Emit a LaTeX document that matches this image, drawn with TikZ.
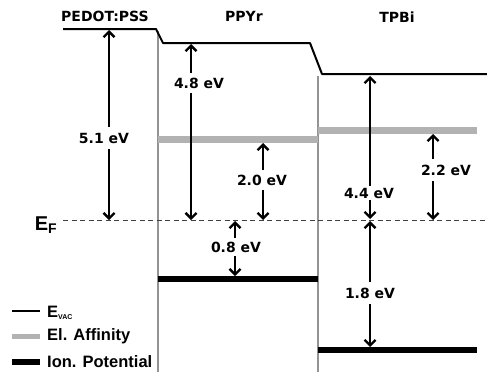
\documentclass[tikz,border=0pt]{standalone}
\usepackage{fontspec}
\setmainfont{DejaVu Sans}
\newfontfamily\legfont{Liberation Sans}
\usetikzlibrary{arrows.meta}

\tikzset{
	vac/.style={line width=2pt, black},
	affin/.style={line width=7pt, gray!60},
	ionpot/.style={line width=6.5pt, black},
	sepline/.style={line width=1.2pt, gray!85},
	fermi/.style={line width=0.9pt, gray!50!black, dash pattern=on 5pt off 3.5pt},
	gaparrow/.style={line width=2.3pt, -{Straight Barb[length=5.5pt,width=11pt,line width=2.3pt]}},
	elab/.style={font=\bfseries\fontsize{14}{15}\selectfont, inner xsep=1pt, inner ysep=5pt},
	mattitle/.style={font=\bfseries\fontsize{14}{15}\selectfont, inner sep=0pt},
	legtext/.style={font=\legfont\bfseries\fontsize{16.5}{17}\selectfont, anchor=west, inner sep=0pt},
}

\begin{document}
\begin{tikzpicture}[x=1pt, y=-1pt, line cap=butt]
	\useasboundingbox (0,0) rectangle (487,372);
	% interfaces
	\draw[sepline] (158,31) -- (158,372);
	\draw[sepline] (318,76) -- (318,372);
	% vacuum level
	\draw[vac, line join=round] (63,29) -- (156,29) -- (163,43) -- (310,43) -- (322,74) -- (487,74);
	% electron affinity and ionisation potential
	\draw[affin] (158,139) -- (318,139);
	\draw[affin] (318,130) -- (477,130);
	\draw[ionpot] (158,279) -- (318,279);
	\draw[ionpot] (318,350) -- (477,350);
	% Fermi level
	\draw[fermi] (63,220) -- (487,220);
	\node[inner sep=0pt, font=\legfont\bfseries\fontsize{20}{21}\selectfont] (ef) at (46,225) {E\textsubscript{\fontsize{14}{14}\selectfont F}};

	% titles
	\node[mattitle] (pedot) at (105,16) {PEDOT:PSS};
	\node[mattitle] (ppyr) at (244,16) {PPYr};
	\node[mattitle] (tpbi) at (397,17) {TPBi};

	% 5.1 eV
	\coordinate (t51) at (109,30);
	\coordinate (b51) at (109,220);
	\node[elab, inner ysep=6pt] (l51) at (104,138) {5.1 eV};
	\draw[gaparrow] (l51.north -| t51) -- (t51);
	\draw[gaparrow] (l51.south -| b51) -- (b51);
	% 4.8 eV
	\coordinate (t48) at (191,44);
	\coordinate (b48) at (191,220);
	\node[elab] (l48) at (199,83) {4.8 eV};
	\draw[gaparrow] (l48.north -| t48) -- (t48);
	\draw[gaparrow] (l48.south -| b48) -- (b48);
	% 2.0 eV
	\coordinate (t20) at (263,143);
	\coordinate (b20) at (263,220);
	\node[elab] (l20) at (262,180) {2.0 eV};
	\draw[gaparrow] (l20.north -| t20) -- (t20);
	\draw[gaparrow] (l20.south -| b20) -- (b20);
	% 0.8 eV
	\coordinate (t08) at (235,221);
	\coordinate (b08) at (235,276);
	\node[elab, inner ysep=4pt] (l08) at (236,247) {0.8 eV};
	\draw[gaparrow] (l08.north -| t08) -- (t08);
	\draw[gaparrow] (l08.south -| b08) -- (b08);
	% 4.4 eV
	\coordinate (t44) at (370,76);
	\coordinate (b44) at (370,219);
	\node[elab, inner ysep=2pt] (l44) at (369,193) {4.4 eV};
	\draw[gaparrow] (l44.north -| t44) -- (t44);
	\draw[gaparrow] (l44.south -| b44) -- (b44);
	% 1.8 eV
	\coordinate (t18) at (370,221);
	\coordinate (b18) at (370,347);
	\node[elab, inner ysep=6pt] (l18) at (370,293) {1.8 eV};
	\draw[gaparrow] (l18.north -| t18) -- (t18);
	\draw[gaparrow] (l18.south -| b18) -- (b18);
	% 2.2 eV
	\coordinate (t22) at (433,134);
	\coordinate (b22) at (433,220);
	\node[elab, inner ysep=6pt] (l22) at (446,170) {2.2 eV};
	\draw[gaparrow] (l22.north -| t22) -- (t22);
	\draw[gaparrow] (l22.south -| b22) -- (b22);

	% legend
	\draw[vac] (12,311) -- (40,311);
	\draw[affin, line width=5pt] (12,336) -- (40,336);
	\draw[ionpot] (12,362) -- (40,362);
	\node[legtext] (legvac) at (47,313) {E\textsubscript{\fontsize{7}{7}\selectfont VAC}};
	\node[legtext] (legaff) at (47,336) {El. Affinity};
	\node[legtext] (legion) at (47,362) {Ion. Potential};
\end{tikzpicture}
\end{document}
